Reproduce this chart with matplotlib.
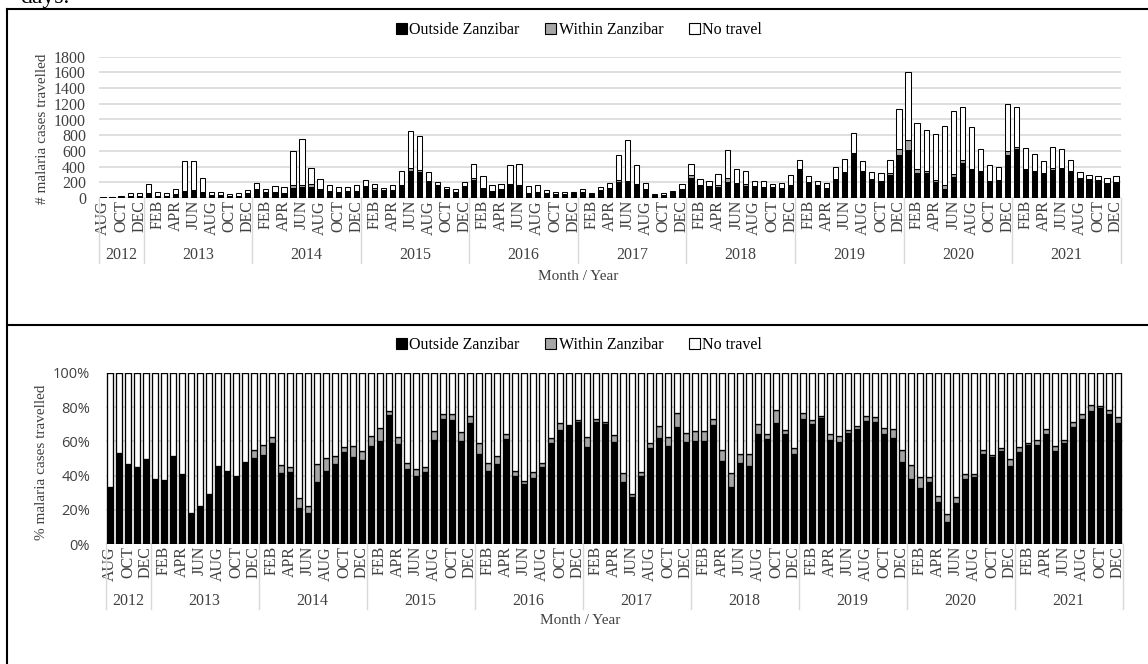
import matplotlib
matplotlib.use('Agg')
import matplotlib.pyplot as plt
from matplotlib.patches import Rectangle
from matplotlib.lines import Line2D
from matplotlib.transforms import blended_transform_factory
import numpy as np

plt.rcParams['font.family'] = ['Liberation Serif', 'DejaVu Serif']

# ---------------- data ----------------
MONTH_NAMES = ['JAN', 'FEB', 'MAR', 'APR', 'MAY', 'JUN',
               'JUL', 'AUG', 'SEP', 'OCT', 'NOV', 'DEC']
years = [2012, 2013, 2014, 2015, 2016, 2017, 2018, 2019, 2020, 2021]
first_month_2012 = 7  # AUG

outside = [3, 8, 14, 28, 31,
           68, 30, 31, 49, 85, 102, 75, 35, 34, 22, 31, 53,
           101, 71, 64, 61, 125, 135, 139, 103, 77, 78, 74, 81,
           134, 108, 98, 94, 150, 342, 334, 204, 154, 105, 66, 145,
           228, 119, 80, 111, 168, 152, 60, 77, 59, 48, 50, 57,
           68, 50, 95, 116, 201, 202, 168, 110, 34, 40, 65, 107,
           261, 147, 149, 146, 204, 172, 156, 142, 135, 127, 119, 156,
           354, 200, 159, 119, 232, 322, 556, 335, 236, 203, 298, 547,
           610, 315, 313, 201, 120, 265, 443, 353, 326, 215, 218, 546,
           624, 368, 328, 306, 357, 366, 329, 241, 226, 227, 190, 194]

within = [0, 0, 0, 0, 0,
          0, 0, 0, 0, 0, 0, 0, 0, 0, 0, 0, 5,
          12, 4, 8, 4, 36, 30, 40, 18, 8, 4, 9, 9,
          14, 14, 3, 6, 12, 34, 24, 17, 6, 5, 6, 9,
          28, 13, 7, 5, 11, 9, 5, 4, 3, 3, 0, 1,
          7, 1, 1, 8, 27, 11, 8, 5, 4, 4, 8, 10,
          26, 15, 8, 19, 49, 20, 22, 12, 6, 14, 4, 10,
          17, 7, 2, 6, 14, 7, 17, 14, 10, 11, 24, 80,
          128, 57, 26, 29, 41, 39, 35, 18, 15, 6, 6, 54,
          29, 7, 17, 14, 20, 12, 14, 10, 10, 3, 6, 10]

no_travel = [6, 7, 16, 34, 31,
             112, 50, 29, 71, 385, 363, 180, 42, 46, 33, 34, 47,
             82, 45, 83, 80, 434, 585, 206, 119, 80, 63, 62, 75,
             87, 58, 29, 60, 178, 479, 437, 114, 50, 35, 38, 51,
             179, 148, 83, 64, 241, 274, 90, 89, 38, 21, 22, 22,
             45, 19, 39, 71, 322, 522, 244, 80, 17, 26, 22, 63,
             148, 83, 58, 135, 357, 173, 162, 66, 79, 39, 62, 129,
             114, 78, 54, 70, 144, 166, 257, 116, 84, 101, 158, 513,
             867, 583, 531, 590, 759, 801, 687, 534, 279, 204, 176, 600,
             502, 260, 220, 155, 278, 242, 137, 79, 54, 55, 54, 71]

series_names = ['Outside Zanzibar', 'Within Zanzibar', 'No travel']

# category labels (month / year)
month_labels = []
month_years = []
for y in years:
    start = first_month_2012 if y == 2012 else 0
    for m in range(start, 12):
        month_labels.append(MONTH_NAMES[m])
        month_years.append(y)

# ---------------- figure ----------------
W, H = 1148, 664
fig = plt.figure(figsize=(W / 100, H / 100), dpi=100)


def px_axes(left, top, right, bottom):
    return fig.add_axes([left / W, 1 - bottom / H, (right - left) / W, (bottom - top) / H])


TXT = '#404040'
GRID = '#d9d9d9'
FACE = ['#000000', '#a6a6a6', '#ffffff']
EDGE = ['#000000', '#000000', '#000000']

o = np.array(outside, float)
w = np.array(within, float)
n = np.array(no_travel, float)
tot = o + w + n
x = np.arange(len(month_labels))


def draw_panel(ax, vals, width, lw, ylim, yticks, yticklabels, ytick_font, ytick_pad,
               ax_top_px, ax_bot_px, year_y_px, sep_bot_px):
    bottom = np.zeros(len(x))
    for v, fc, ec in zip(vals, FACE, EDGE):
        ax.bar(x, v, width, bottom=bottom, color=fc, edgecolor=ec, linewidth=lw, zorder=3)
        bottom = bottom + v
    ax.set_xlim(-0.5, len(x) - 0.5)
    ax.set_ylim(*ylim)
    ax.set_yticks(yticks)
    ax.set_yticklabels(yticklabels, **ytick_font)
    for t in yticks:
        ax.axhline(t, color=GRID, linewidth=1.2, zorder=1)
    for s in ax.spines.values():
        s.set_visible(False)
    ax.tick_params(axis='y', length=0, pad=ytick_pad, colors=TXT)
    ax.tick_params(axis='x', length=0, pad=1.5, colors=TXT)
    ax.set_xticks(x[::2])
    ax.set_xticklabels(month_labels[::2], rotation=90, fontsize=11.5,
                       fontfamily='Liberation Serif', color=TXT)
    # year level
    hpx = ax_bot_px - ax_top_px
    tr = blended_transform_factory(ax.transData, ax.transAxes)
    yy = (ax_bot_px - year_y_px) / hpx
    ysep = (ax_bot_px - sep_bot_px) / hpx
    idx = 0
    seps = [-0.5]
    for yv in years:
        cnt = month_years.count(yv)
        ax.text(idx + (cnt - 1) / 2, yy, str(yv), transform=tr, ha='center', va='center',
                fontsize=11.5, color=TXT, fontfamily='Liberation Serif')
        idx += cnt
        seps.append(idx - 0.5)
    for sx in seps:
        ax.add_line(Line2D([sx, sx], [0, ysep], transform=tr, color=GRID,
                           linewidth=1.0, clip_on=False))


# top panel: counts
ax1 = px_axes(98.5, 56.7, 1120.6, 198)
draw_panel(ax1, [o, w, n], 0.58, 0.75, (0, 1800), list(range(0, 1801, 200)),
           [str(v) for v in range(0, 1801, 200)],
           dict(fontsize=11.5, fontfamily='Liberation Serif'), 9,
           56.7, 198, 255, 263)

# bottom panel: percentages
ax2 = px_axes(105.5, 373, 1122.5, 544)
draw_panel(ax2, [o / tot * 100, w / tot * 100, n / tot * 100], 0.64, 0.95, (0, 100),
           [0, 20, 40, 60, 80, 100], ['0%', '20%', '40%', '60%', '80%', '100%'],
           dict(fontsize=10.5, fontfamily='Open Sans'), 11,
           373, 544, 601, 609)

# y labels
fig.text(43 / W, 1 - 129 / H, '# malaria cases travelled', rotation=90, ha='center',
         va='center', fontsize=11, color=TXT)
fig.text(42 / W, 1 - 462 / H, '% malaria cases travelled', rotation=90, ha='center',
         va='center', fontsize=11, color=TXT)

# x labels
fig.text(578 / W, 1 - 276 / H, 'Month / Year', ha='center', va='center', fontsize=11, color=TXT)
fig.text(580 / W, 1 - 621 / H, 'Month / Year', ha='center', va='center', fontsize=11, color=TXT)

# legends
handles = [Rectangle((0, 0), 1, 1, facecolor=fc, edgecolor=ec, linewidth=0.8)
           for fc, ec in zip(FACE, EDGE)]
for cy in (30, 345):
    fig.legend(handles, series_names, loc='center', bbox_to_anchor=(579 / W, 1 - cy / H),
               ncol=3, frameon=False, fontsize=11.5, handlelength=0.7, handleheight=0.7,
               handletextpad=0.15, columnspacing=1.6, borderpad=0)

# outer frame (table borders) and cropped caption fragment from the page above
lw = 1.5
fig.add_artist(Line2D([7 / W, 7 / W], [0, 1 - 9 / H], color='black', linewidth=lw))
fig.add_artist(Line2D([7 / W, 1], [1 - 9 / H, 1 - 9 / H], color='black', linewidth=lw))
fig.add_artist(Line2D([7 / W, 1], [1 - 325 / H, 1 - 325 / H], color='black', linewidth=lw))
fig.text(20 / W, 1 - 3 / H, 'days.', ha='left', va='baseline', fontsize=17, color='black')

fig.savefig('out.png', dpi=100)
